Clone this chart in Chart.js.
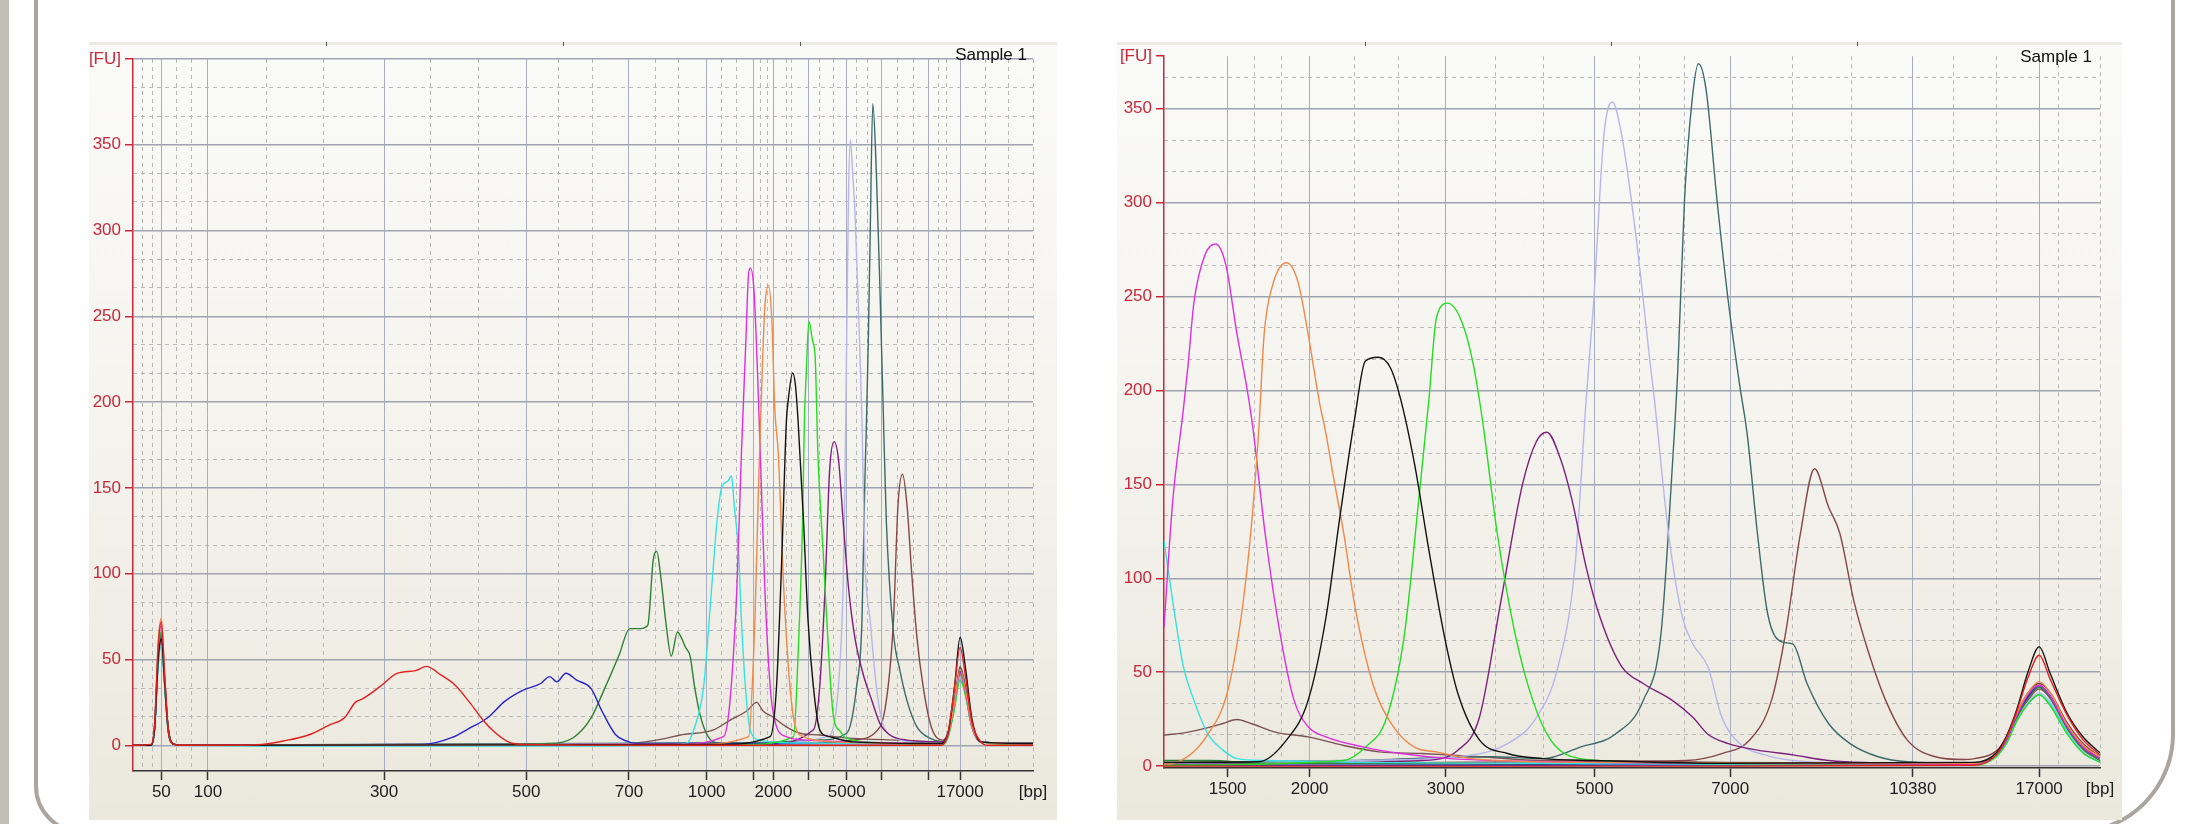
<!DOCTYPE html>
<html>
<head>
<meta charset="utf-8">
<script src="https://cdn.jsdelivr.net/npm/chart.js@4.4.1/dist/chart.umd.min.js"></script>
<style>
html, body { margin: 0; padding: 0; background: #fff; }
body { width: 2198px; height: 824px; position: relative; overflow: hidden; }
.strip { position: absolute; left: 0; top: 0; width: 9px; height: 824px; background: #c2bfb9; }
.frame { position: absolute; left: 34px; top: -80px; width: 2141px; height: 914px; box-sizing: border-box;
  border: 4px solid #aaa69f; border-radius: 0 0 100px 48px; }
.plot { position: absolute; top: 42px; height: 778px;
  background: linear-gradient(#ebeae3 0, #ebeae3 3px, #fafaf8 3px, #f5f4ef 45%, #ebe8dd 100%); }
.tk { position: absolute; top: 42px; width: 1px; height: 4px; background: #555; }
</style>
</head>
<body>
<div class="strip"></div>
<div class="frame"></div>
<div class="plot" style="left:89px;width:968px"><canvas id="left" width="968" height="778"></canvas></div>
<div class="plot" style="left:1117px;width:1005px"><canvas id="right" width="1005" height="778"></canvas></div>
<div class="tk" style="left:326px"></div><div class="tk" style="left:563px"></div><div class="tk" style="left:800px"></div>
<div class="tk" style="left:1365px"></div><div class="tk" style="left:1611px"></div><div class="tk" style="left:1857px"></div>
<script>
// colours of the samples
const RED = '#e3201f', BLUE = '#2424c8', DKGREEN = '#2f8034', CYAN = '#35e2e2', MAGENTA = '#de2ede',
  ORANGE = '#f0884a', BLACK = '#121212', GREEN = '#24dc24', PURPLE = '#7c1f7c', LAVENDER = '#b6b6ee',
  TEAL = '#3b6a6a', BROWN = '#874646', LOWBROWN = '#7b5252';

// ---- left panel: whole run (x = migration position 0..100) ----
const leftXTicks = [3.15, 8.33, 27.9, 43.7, 55.1, 63.74, 68.93, 71.15, 75.04, 79.3, 83.2, 88.4, 91.9];
const leftXLabels = ['50', '100', '300', '500', '700', '1000', '', '2000', '', '5000', '', '', '17000'];
const leftXMinor = [1.05, 2.12, 4.8, 6.5, 14.8, 21.2, 33.1, 38.4, 47.3, 51.0, 58.1, 60.6, 65.4, 67.1, 69.7,
  70.5, 72.6, 73.2, 76.3, 77.8, 80.4, 81.6, 84.9, 86.7, 89.5, 90.4, 94.7, 97.3, 100];
const leftYTicks = [0, 50, 100, 150, 200, 250, 300, 350];

const leftRed = [[0,0],[2.0,0.5],[2.4,12],[2.8,58],[3.15,72],[3.5,42],[3.9,10],[4.4,1],[5.5,0],[12,0],[14.3,0.5],
  [16.7,2.5],[19.5,6],[21.9,12],[23.5,16],[24.7,25],[25.5,27],[27.4,34],[29.4,42],[31.4,43.5],[32.6,46],[34.2,41],
  [35.8,35],[37.4,25],[39.0,14],[40.1,8],[41.7,2],[43.3,0.5],[60,0],[80,0],[89.8,0],[90.5,6],[91.2,30],[91.9,57],
  [92.5,40],[93.2,14],[94.2,2],[95,0],[100,0]];
const leftBlue = [[0,0],[2.0,0],[2.4,10],[2.8,52],[3.15,65],[3.5,40],[3.9,10],[4.4,1],[5.5,0],[32.2,0.5],[35.4,4.4],
  [37.4,10],[39.4,16],[41.3,25.6],[43.3,32],[45.3,36],[46.3,40],[47.1,37],[48.1,42],[49.3,38],[50.9,33],[52.1,20],
  [53.6,6.3],[54.8,2.5],[56.0,1],[80,1],[89.8,1],[90.5,5],[91.2,22],[91.9,43],[92.5,32],[93.2,12],[94.2,2],[100,1]];
const leftDkGreen = [[0,0],[2.0,0],[2.4,10],[2.8,50],[3.15,64],[3.5,38],[3.9,9],[4.4,1],[5.5,0],[40,0.5],[46.1,1],
  [48.9,4.4],[50.9,16],[52.4,33],[54.0,52.5],[55.2,68],[56.4,68],[57.2,70],[57.8,108],[58.2,113],[58.6,100],[59.2,72],
  [59.8,52],[60.5,66],[60.9,63],[61.4,57],[61.9,52],[62.4,34],[63.0,18],[63.7,7],[64.5,2],[66,1],[89.8,1],[90.5,5],
  [91.2,22],[91.9,42],[92.5,30],[93.2,11],[94.2,2],[100,1]];
const leftCyan = [[0,0],[2.0,0],[2.4,9],[2.8,46],[3.15,58],[3.5,35],[3.9,9],[4.4,1],[5.5,0],[20,-0.5],[50,-0.5],[58,0],
  [61.5,1],[62.3,9],[63.4,34],[64.3,92],[64.9,131],[65.4,150],[66.1,154],[66.5,157],[66.8,140],[67.3,111],[67.6,73],
  [68.2,24],[68.7,7],[69.7,3],[72,1.5],[89.8,1],[90.5,4],[91.2,20],[91.9,40],[92.5,30],[93.2,11],[94.2,2],[100,1]];
const leftMagenta = [[0,0],[2.0,0],[2.4,11],[2.8,56],[3.15,70],[3.5,41],[3.9,10],[4.4,1],[5.5,0],[60,0.5],[65.6,5],
  [66.3,24],[67.1,92],[67.6,170],[68.1,236],[68.4,275],[68.6,278],[69.0,265],[69.4,216],[69.7,170],[70.2,92],[70.8,34],
  [71.3,14.5],[72.6,5],[75,3],[80,2],[89.8,1],[90.5,5],[91.2,22],[91.9,42],[92.5,31],[93.2,11],[94.2,2],[100,1]];
const leftOrange = [[0,0],[2.0,0],[2.4,12],[2.8,60],[3.15,74],[3.5,44],[3.9,11],[4.4,1],[5.5,0],[62,0.5],[68.4,5],
  [69.1,73],[69.5,150],[69.9,216],[70.2,255],[70.6,268],[71.0,246],[71.3,197],[71.7,170],[72.3,92],[73.0,34],[73.6,11],
  [74.5,5],[78,2],[89.8,1],[90.5,5],[91.2,22],[91.9,44],[92.5,32],[93.2,12],[94.2,2],[100,1]];
const leftBlack = [[0,0],[2.0,0],[2.4,10],[2.8,50],[3.15,62],[3.5,38],[3.9,10],[4.4,1],[5.5,0],[65,0.5],[70.8,5],
  [71.5,34],[72.1,111],[72.6,189],[72.8,201],[73.3,217],[73.6,210],[73.9,189],[74.5,131],[75.0,73],[75.6,34],[76.3,9],
  [77.4,5],[80,2],[89.8,1],[90.6,8],[91.3,35],[91.9,63],[92.5,45],[93.2,16],[94.2,2],[100,1]];
const leftGreen = [[0,0],[2.0,0],[2.4,11],[2.8,53],[3.15,66],[3.5,39],[3.9,10],[4.4,1],[5.5,0],[68,0.5],[73.4,5],
  [73.9,53],[74.4,131],[74.6,189],[74.8,216],[75.1,247],[75.5,236],[75.8,226],[76.1,170],[76.7,111],[77.3,53],[77.8,18],
  [78.6,8],[79.3,4],[83,1.5],[89.8,0],[90.5,4],[91.2,19],[91.9,38],[92.5,29],[93.2,11],[94.2,2],[100,0]];
const leftPurple = [[0,0],[2.0,0],[2.4,10],[2.8,51],[3.15,64],[3.5,38],[3.9,10],[4.4,1],[5.5,0],[70,0.5],[75.6,9],
  [76.3,34],[76.9,92],[77.4,160],[77.9,177],[78.4,166],[78.9,131],[79.5,92],[80.2,63],[81.1,42],[82.1,26],[83.0,12.6],
  [84.1,6],[86.0,3],[89.8,2],[90.5,6],[91.2,22],[91.9,43],[92.5,32],[93.2,12],[94.2,2],[100,1]];
const leftLavender = [[0,0],[2.0,0],[2.4,9],[2.8,48],[3.15,60],[3.5,36],[3.9,9],[4.4,1],[5.5,0],[70,1],[77.1,5],
  [78.2,24],[78.9,92],[79.1,150],[79.35,260],[79.5,320],[79.7,353],[80.0,330],[80.2,313],[80.6,255],[81.0,189],
  [81.3,111],[81.9,73],[82.6,34],[83.2,14.5],[84.1,6],[87,2],[89.8,1],[90.5,4],[91.2,20],[91.9,40],[92.5,30],[93.2,11],
  [94.2,2],[100,1]];
const leftTeal = [[0,0],[2.0,0],[2.4,11],[2.8,53],[3.15,66],[3.5,39],[3.9,10],[4.4,1],[5.5,0],[70,1.5],[76,3],[79.3,7],
  [80.4,34],[81.0,73],[81.3,150],[81.5,189],[81.7,236],[81.9,294],[82.2,374],[82.6,333],[83.0,265],[83.4,187],
  [83.7,131],[84.5,65],[85.2,44],[86.0,26],[87.1,10.7],[88.6,4],[90.0,2],[90.6,6],[91.3,24],[91.9,45],[92.5,33],
  [93.2,12],[94.2,2],[100,1]];
const leftBrown = [[0,0],[2.0,0],[2.4,10],[2.8,50],[3.15,63],[3.5,37],[3.9,9],[4.4,1],[5.5,0],[75,1],[80,3],[83.0,10.7],
  [83.9,34],[84.5,73],[85.0,140],[85.5,158],[86.0,140],[86.5,102],[87.1,63],[87.8,34],[88.7,10.7],[90.0,3],[90.6,8],
  [91.3,26],[91.9,46],[92.5,34],[93.2,12],[94.2,2],[100,1]];
const leftLowBrown = [[0,0],[2.0,0],[2.4,10],[2.8,50],[3.15,62],[3.5,37],[3.9,9],[4.4,1],[5.5,0],[50,0.5],[55.2,1],
  [59.2,4],[60.8,6],[64.5,9],[66.3,14.5],[68.2,20],[69.3,25],[70.0,20],[71.1,16.5],[72.6,10.7],[74.1,7],[76.3,6],
  [80,4],[85,3],[89.8,2],[90.5,5],[91.2,21],[91.9,42],[92.5,31],[93.2,11],[94.2,2],[100,1]];

// ---- right panel: zoom on the large fragments ----
const rightXTicks = [6.8, 15.56, 30.1, 46.0, 60.5, 80.0, 93.5];
const rightXLabels = ['1500', '2000', '3000', '5000', '7000', '10380', '17000'];
const rightXMinor = [9.7, 12.6, 20.4, 25.1, 35.4, 40.5, 50.8, 55.6, 67.1, 73.5, 84.3, 88.9, 95.6, 100];
const rightYTicks = [0, 50, 100, 150, 200, 250, 300, 350];

const rightRed = [[0,0],[30,0],[60,0],[86.6,0.5],[88.9,6],[90.1,16],[91.1,29],[92.3,47],[93.5,59],[94.7,46],[96.5,27],
  [98.2,14],[100,6]];
const rightBlue = [[0,0.5],[40,0.5],[86.6,1],[88.9,6],[90.1,15],[91.1,27],[92.3,37],[93.5,43],[94.7,37],[96.5,21],
  [98.2,10],[100,4]];
const rightDkGreen = [[0,3],[5,3],[10,1.5],[40,1],[86.6,1],[88.9,6],[90.1,15],[91.1,26],[92.3,36],[93.5,42],[94.7,36],
  [96.5,20],[98.2,9],[100,3]];
const rightCyan = [[0,120],[0.93,88],[2.07,53],[3.2,35],[4.7,17],[6.3,8.5],[7.8,4],[10.8,3],[20,2],[40,1.5],[60,1],
  [86.6,1],[88.9,5],[90.1,13],[91.1,24],[92.3,33],[93.5,38],[94.7,33],[96.5,18],[98.2,7],[100,2]];
const rightMagenta = [[0,74],[0.93,141],[2.07,190],[2.6,215],[3.2,247],[4.36,272],[5.5,278],[6.6,267],[7.8,230],
  [8.9,200],[9.5,180],[10.8,124],[12.4,70.6],[13.9,35],[15.4,21],[17.3,15.6],[21.5,10],[25.3,6.7],[30.6,4],[40,2.5],
  [60,1.5],[86.6,1],[88.9,6],[90.1,15],[91.1,27],[92.3,38],[93.5,43],[94.7,37],[96.5,21],[98.2,10],[100,4]];
const rightOrange = [[0,1],[0.93,1.4],[4.7,17],[7.0,44],[8.9,106],[10.1,177],[10.7,230],[11.6,256],[13.1,268],
  [14.3,258],[15.4,230],[16.6,194],[17.3,177],[18.1,154],[19.2,124],[20.4,85],[22.3,44],[24.5,21],[26.8,10],[29.1,7.6],
  [32.9,4],[45,2],[86.6,1.5],[88.9,7],[90.1,16],[91.1,28],[92.3,39],[93.5,45],[94.7,39],[96.5,22],[98.2,11],[100,5]];
const rightBlack = [[0,2],[10.1,2.3],[13.1,14],[15.4,35],[17.3,79],[18.8,133],[20.4,186],[21.5,215.6],[22.9,217.7],
  [24.2,212],[25.3,195],[26.8,160],[28.3,115],[29.9,70.6],[31.4,38.7],[33.7,14],[36.7,6.7],[40.5,4],[45.9,3],[60,1.5],
  [86.6,2],[88.9,7],[90.1,17],[91.1,30],[92.3,50],[93.5,63.5],[94.7,49],[96.5,28],[98.2,15.5],[100,7]];
const rightGreen = [[0,0.5],[19.2,3],[21.5,10],[23.8,26],[25.7,70.6],[27.2,141],[28.3,195],[29.1,238.6],[30.3,246.5],
  [31.8,236.8],[33.0,215],[34.0,185],[35.6,124],[37.5,70.6],[39.4,35],[41.3,14],[44.4,4],[55,1.5],[86.6,0.5],[88.9,5],
  [90.1,13],[91.1,24],[92.3,33],[93.5,38],[94.7,32],[96.5,17],[98.2,7],[100,2]];
const rightPurple = [[0,1],[27.6,3],[31.4,8.5],[33.7,26],[36.0,88],[38.3,150],[39.8,173],[40.9,177.8],[42.4,163],
  [43.6,141.5],[45.1,106],[46.6,79],[48.9,53],[51.2,44],[54.3,35],[56.5,26],[58.1,17],[60.3,12],[63.4,8.5],[67.2,6],
  [71.0,3],[80,1.5],[86.6,1.5],[88.9,6],[90.1,15],[91.1,27],[92.3,38],[93.5,43],[94.7,37],[96.5,21],[98.2,10],[100,4]];
const rightLavender = [[0,1],[20,3],[31.4,5],[36.7,12],[39.8,26],[42.1,53],[43.9,106],[45.1,195],[45.9,247],[47.0,336],
  [47.9,353.6],[48.9,336],[50.4,283],[52.0,212],[52.4,195],[53.9,124],[55.4,79],[56.5,65],[58.1,53],[59.6,26],[61.5,12],
  [64.2,6],[67.2,3],[80,1],[86.6,1],[88.9,5],[90.1,13],[91.1,24],[92.3,34],[93.5,39],[94.7,34],[96.5,19],[98.2,8],[100,3]];
const rightTeal = [[0,2],[20,3],[35,5],[40.5,4],[44.4,10],[48.2,17],[51.2,35],[53.1,70.6],[54.3,159],[54.9,212],
  [55.6,300.5],[56.4,353.6],[57.1,374],[57.9,360.7],[59.1,300.5],[60.3,247],[61.5,203],[62.3,177],[63.4,124],[64.5,81],
  [66.1,66],[67.2,65],[68.7,44],[71.0,22.7],[73.3,12],[76.3,5],[79.4,2.3],[86.6,1.5],[88.9,6],[90.1,15],[91.1,27],
  [92.3,37],[93.5,42],[94.7,37],[96.5,21],[98.2,10],[100,4]];
const rightBrown = [[0,1],[30,2],[50,2.5],[55.8,3],[59.6,6.7],[62.6,14],[64.9,35],[66.4,70.6],[68.0,124],[69.5,158.3],
  [71.0,138],[72.2,124],[73.7,88],[75.2,61.7],[77.1,35],[79.4,14],[82.4,5],[85.5,3.5],[86.6,4],[88.9,8],[90.1,16],
  [91.1,28],[92.3,39],[93.5,44],[94.7,39],[96.5,23],[98.2,12],[100,5]];
const rightLowBrown = [[0,16.5],[2.45,18],[5.1,21],[6.3,22.7],[7.8,24.8],[9.3,22.7],[12.0,18],[15.4,15.6],[19.2,11],
  [23.0,7.6],[27.6,6.7],[33.7,5],[40.5,3],[44.4,3],[60,2],[80,1.5],[86.6,1.5],[88.9,6],[90.1,14],[91.1,25],[92.3,35],
  [93.5,41],[94.7,36],[96.5,20],[98.2,9],[100,4]];

Chart.defaults.font.family = '"Liberation Sans", Arial, sans-serif';
Chart.defaults.font.size = 17;

// "Sample 1" in the top right corner of each plot
const sampleTag = {
  id: 'sampleTag',
  afterDatasetsDraw(chart, args, opts) {
    const ctx = chart.ctx, a = chart.chartArea;
    ctx.save();
    ctx.font = '17px "Liberation Sans", Arial, sans-serif';
    ctx.fillStyle = '#111';
    ctx.textAlign = 'right';
    ctx.textBaseline = 'middle';
    ctx.fillText(opts.text, a.right + opts.dx, a.top + opts.dy);
    ctx.restore();
  }
};

function buildChart(id, c) {
  const none = 'rgba(0,0,0,0)';
  const xTicks = c.xTicks.concat([100]);
  const xLabels = c.xLabels.concat(['[bp]']);
  const yTicks = c.yTicks.concat([c.yMax]);
  const yLabels = c.yTicks.map(String).concat(['[FU]']);
  const yMinor = [];
  for (let k = 1; k * 50 / 3 < c.yMax; k++) if (k % 3) yMinor.push(k * 50 / 3);

  new Chart(document.getElementById(id), {
    type: 'line',
    data: {
      datasets: c.series.map(s => ({
        data: s[0].map(p => ({ x: p[0], y: p[1] })),
        borderColor: s[1], borderWidth: 1.4, pointRadius: 0, fill: false,
        cubicInterpolationMode: 'monotone'
      }))
    },
    options: {
      responsive: false, animation: false, devicePixelRatio: 1,
      layout: { padding: { top: c.padTop, right: c.padRight, left: 0, bottom: 0 } },
      plugins: { legend: { display: false }, tooltip: { enabled: false }, sampleTag: c.tag },
      scales: {
        xMinor: {
          type: 'linear', position: 'bottom', min: 0, max: 100,
          afterBuildTicks: s => { s.ticks = c.xMinor.map(v => ({ value: v })); },
          afterFit: s => { s.height = 0; },
          ticks: { display: false },
          grid: { color: '#b8b8b8', lineWidth: 1, drawTicks: false },
          border: { display: false, dash: [4, 4] }
        },
        yMinor: {
          type: 'linear', position: 'left', min: c.yMin, max: c.yMax,
          afterBuildTicks: s => { s.ticks = yMinor.map(v => ({ value: v })); },
          afterFit: s => { s.width = 0; },
          ticks: { display: false },
          grid: { color: '#bababa', lineWidth: 1, drawTicks: false },
          border: { display: false, dash: [4, 4] }
        },
        x: {
          type: 'linear', position: 'bottom', min: 0, max: 100,
          afterBuildTicks: s => { s.ticks = xTicks.map(v => ({ value: v })); },
          afterFit: s => { s.height = c.xAxisH; },
          ticks: { autoSkip: false, maxRotation: 0, padding: 2, color: '#1c1c1c',
            callback: (v, i) => xLabels[i] },
          grid: {
            color: ctx => ctx.index === xTicks.length - 1 ? none : '#a8aec2',
            tickColor: ctx => ctx.index === xTicks.length - 1 ? none : '#333',
            lineWidth: 1, tickLength: 9, tickWidth: 1.5
          },
          border: { color: '#333', width: 1.5 }
        },
        y: {
          type: 'linear', position: 'left', min: c.yMin, max: c.yMax,
          afterBuildTicks: s => { s.ticks = yTicks.map(v => ({ value: v })); },
          afterFit: s => { s.width = c.yAxisW; },
          ticks: { padding: 4, color: '#c8283a', callback: (v, i) => yLabels[i] },
          grid: {
            color: ctx => (ctx.index === yTicks.length - 1 && !c.topLine) ? none : '#a0a4b0',
            lineWidth: 1.5, tickLength: 8, tickColor: '#c8283a', tickWidth: 1.5
          },
          border: { color: '#c8283a', width: 1.5 }
        }
      }
    },
    plugins: [sampleTag]
  });
}

buildChart('left', {
  xTicks: leftXTicks, xLabels: leftXLabels, xMinor: leftXMinor,
  yTicks: leftYTicks, yMin: -15, yMax: 400, topLine: true,
  yAxisW: 44, xAxisH: 49, padTop: 17, padRight: 24,
  tag: { text: 'Sample 1', dx: -6, dy: -4 },
  series: [[leftRed, RED], [leftBlack, BLACK], [leftOrange, ORANGE], [leftMagenta, MAGENTA], [leftGreen, GREEN],
    [leftCyan, CYAN], [leftBlue, BLUE], [leftDkGreen, DKGREEN], [leftPurple, PURPLE], [leftLavender, LAVENDER],
    [leftTeal, TEAL], [leftBrown, BROWN], [leftLowBrown, LOWBROWN]]
});

buildChart('right', {
  xTicks: rightXTicks, xLabels: rightXLabels, xMinor: rightXMinor,
  yTicks: rightYTicks, yMin: -1, yMax: 378, topLine: false,
  yAxisW: 47, xAxisH: 52, padTop: 14, padRight: 22,
  tag: { text: 'Sample 1', dx: -8, dy: 1 },
  series: [[rightRed, RED], [rightBlack, BLACK], [rightOrange, ORANGE], [rightMagenta, MAGENTA], [rightGreen, GREEN],
    [rightCyan, CYAN], [rightBlue, BLUE], [rightDkGreen, DKGREEN], [rightPurple, PURPLE], [rightLavender, LAVENDER],
    [rightTeal, TEAL], [rightBrown, BROWN], [rightLowBrown, LOWBROWN]]
});
</script>
</body>
</html>
